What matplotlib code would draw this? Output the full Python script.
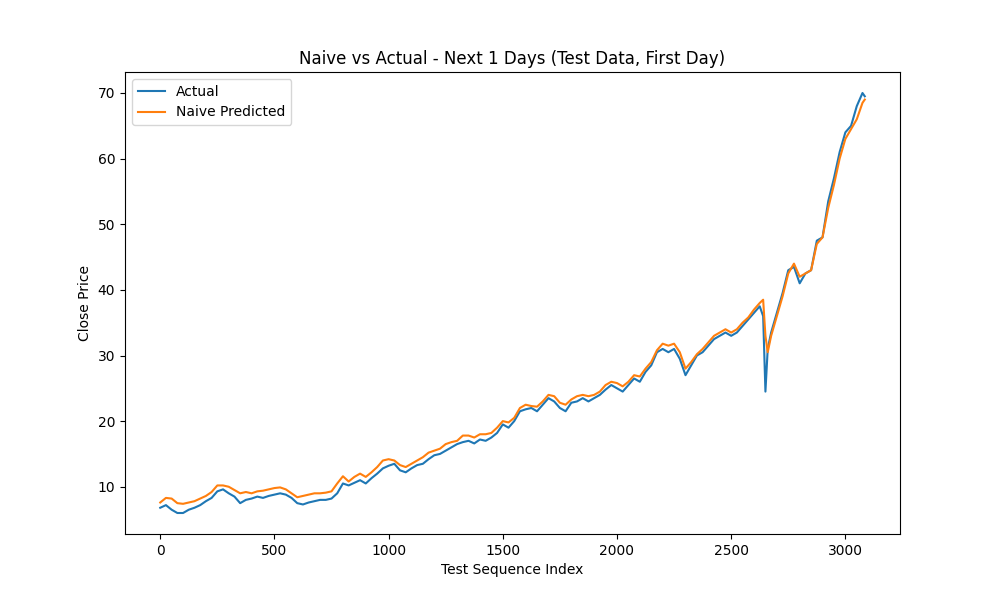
import matplotlib
matplotlib.use('Agg')
import matplotlib.pyplot as plt

# Values at a coarse index step
index = [0, 25, 50, 75, 100, 125, 150, 175, 200, 225, 250, 275, 300, 325, 350, 375,
         400, 425, 450, 475, 500, 525, 550, 575, 600, 625, 650, 675, 700, 725, 750, 775,
         800, 825, 850, 875, 900, 925, 950, 975, 1000, 1025, 1050, 1075, 1100, 1125, 1150,
         1175, 1200, 1225, 1250, 1275, 1300, 1325, 1350, 1375, 1400, 1425, 1450, 1475,
         1500, 1525, 1550, 1575, 1600, 1625, 1650, 1675, 1700, 1725, 1750, 1775, 1800,
         1825, 1850, 1875, 1900, 1925, 1950, 1975, 2000, 2025, 2050, 2075, 2100, 2125,
         2150, 2175, 2200, 2225, 2250, 2275, 2300, 2325, 2350, 2375, 2400, 2425, 2450,
         2475, 2500, 2525, 2550, 2575, 2600, 2625, 2640, 2650, 2660, 2675, 2700, 2725,
         2750, 2775, 2800, 2825, 2850, 2875, 2900, 2925, 2950, 2975, 3000, 3025, 3050,
         3075, 3085]

actual = [6.8, 7.2, 6.5, 6.0, 6.0, 6.5, 6.8, 7.2, 7.8, 8.3, 9.3, 9.6, 9.0, 8.5, 7.5, 8.0,
          8.2, 8.5, 8.3, 8.6, 8.8, 9.0, 8.8, 8.3, 7.5, 7.3, 7.6, 7.8, 8.0, 8.0, 8.2, 9.0,
          10.5, 10.2, 10.6, 11.0, 10.5, 11.3, 12.0, 12.8, 13.2, 13.5, 12.5, 12.2, 12.8, 13.3, 13.5,
          14.2, 14.8, 15.0, 15.5, 16.0, 16.5, 16.8, 17.0, 16.6, 17.2, 17.0, 17.5, 18.2,
          19.5, 19.0, 20.0, 21.5, 21.8, 22.0, 21.5, 22.5, 23.5, 23.0, 22.0, 21.5, 22.8,
          23.0, 23.5, 23.0, 23.5, 24.0, 24.8, 25.5, 25.0, 24.5, 25.5, 26.5, 26.0, 27.5,
          28.5, 30.5, 31.0, 30.5, 31.0, 29.5, 27.0, 28.5, 30.0, 30.5, 31.5, 32.5, 33.0,
          33.5, 33.0, 33.5, 34.5, 35.5, 36.5, 37.5, 36.0, 24.5, 31.0, 33.5, 36.5, 39.5,
          43.0, 43.5, 41.0, 42.5, 43.0, 47.5, 48.0, 53.5, 57.0, 61.0, 64.0, 65.0, 68.0,
          70.0, 69.5]

naive = [7.6, 8.3, 8.2, 7.5, 7.4, 7.6, 7.8, 8.2, 8.6, 9.2, 10.2, 10.2, 10.0, 9.5, 9.0, 9.2,
         9.0, 9.3, 9.4, 9.6, 9.8, 9.9, 9.6, 9.0, 8.4, 8.6, 8.8, 9.0, 9.0, 9.1, 9.3, 10.5,
         11.6, 10.8, 11.5, 12.0, 11.5, 12.2, 13.0, 14.0, 14.2, 14.0, 13.3, 13.0, 13.5, 14.0, 14.5,
         15.2, 15.5, 15.8, 16.5, 16.8, 17.0, 17.8, 17.8, 17.5, 18.0, 18.0, 18.2, 19.0,
         20.0, 19.8, 20.5, 22.0, 22.5, 22.3, 22.2, 23.0, 24.0, 23.8, 22.8, 22.5, 23.3,
         23.8, 24.0, 23.8, 24.0, 24.5, 25.5, 26.0, 25.8, 25.3, 26.0, 27.0, 26.8, 28.0,
         29.0, 30.8, 31.8, 31.5, 31.8, 30.5, 28.0, 29.0, 30.2, 31.0, 32.0, 33.0, 33.5,
         34.0, 33.5, 34.0, 35.0, 35.8, 37.0, 38.0, 38.5, 33.0, 30.5, 33.0, 36.0, 39.0,
         42.5, 44.0, 42.0, 42.5, 43.0, 47.0, 48.0, 52.5, 56.0, 60.0, 63.0, 64.5, 66.0,
         68.5, 69.0]

fig, ax = plt.subplots(figsize=(10, 6), dpi=100)
ax.plot(index, actual, label='Actual')
ax.plot(index, naive, label='Naive Predicted')
ax.set_title('Naive vs Actual - Next 1 Days (Test Data, First Day)')
ax.set_xlabel('Test Sequence Index')
ax.set_ylabel('Close Price')
ax.legend(loc='upper left')
plt.savefig('out.png')
